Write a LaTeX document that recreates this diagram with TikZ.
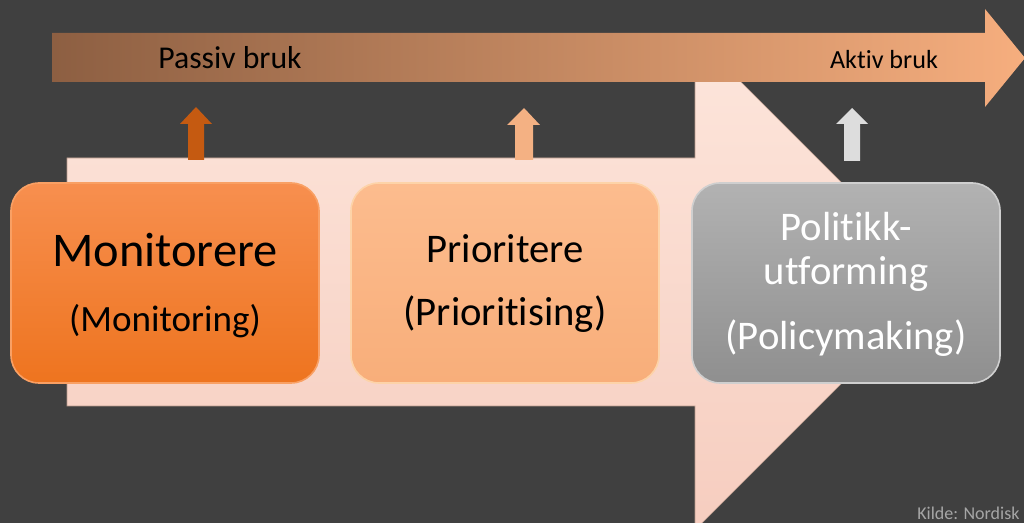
\documentclass[tikz,border=0pt]{standalone}
\usepackage{fontspec}
\setmainfont{Carlito}[Ligatures={NoCommon,NoRare,NoContextual}]
\usetikzlibrary{positioning,shadings}

\definecolor{bgdark}{HTML}{404040}
\definecolor{barleft}{HTML}{8D5F42}
\definecolor{barmid}{HTML}{CB8F66}
\definecolor{barright}{HTML}{F6AE7E}
\definecolor{paletop}{HTML}{FDE6DC}
\definecolor{palebot}{HTML}{F6CDBF}
\definecolor{paleline}{HTML}{B8998B}
\definecolor{montop}{HTML}{F78F4F}
\definecolor{monbot}{HTML}{EE741F}
\definecolor{monrim}{HTML}{F9A064}
\definecolor{pritop}{HTML}{FCBC8E}
\definecolor{pribot}{HTML}{F8AE7A}
\definecolor{pririm}{HTML}{FDD3A8}
\definecolor{poltop}{HTML}{B2B2B2}
\definecolor{polbot}{HTML}{8F8F8F}
\definecolor{polrim}{HTML}{CFCFCF}
\definecolor{arrA}{HTML}{C55A11}
\definecolor{arrB}{HTML}{F4B183}
\definecolor{arrC}{HTML}{DDDDDD}
\definecolor{kilde}{HTML}{A6A6A6}

\begin{document}
\begin{tikzpicture}[x=0.75pt,y=-0.75pt,
  box/.style={rounded corners=21pt,minimum width=231pt,minimum height=150pt,line width=1.2pt,inner sep=0pt},
  txt/.style={anchor=base,inner sep=0pt},
  big/.style={font=\fontsize{30.5}{36}\selectfont}]

\useasboundingbox (0,0) rectangle (1024,523);
\fill[bgdark] (0,0) rectangle (1024,523);
\clip (0,0) rectangle (1024,523);

% wide pale arrow behind the steps
\shade[top color=paletop,bottom color=palebot,draw=paleline,line width=0.5pt]
  (67,158) -- (695,158) -- (695,36) -- (942,283) -- (695,530) -- (695,406) -- (67,406) -- cycle;

% passive -> active scale
\shade[left color=barleft,middle color=barmid,right color=barright]
  (52,33) -- (985,33) -- (985,9) -- (1025,58) -- (985,107) -- (985,82) -- (52,82) -- cycle;
\node[txt,font=\fontsize{23.8}{28}\selectfont] (passiv) at (230,69) {Passiv bruk};
\node[txt,font=\fontsize{19.6}{24}\selectfont] (aktiv) at (884,69) {Aktiv bruk};

% small up arrows
\fill[arrA] (188,160) -- (188,124) -- (180,124) -- (196,107) -- (212,124) -- (204,124) -- (204,160) -- cycle;
\fill[arrB] (515,160) -- (515,125) -- (507,125) -- (524,108) -- (540,125) -- (533,125) -- (533,160) -- cycle;
\fill[arrC] (844,161) -- (844,124) -- (836,124) -- (852,108) -- (868,124) -- (860,124) -- (860,161) -- cycle;

% the three steps
\node[box,top color=montop,bottom color=monbot,draw=monrim] (mon) at (165,283) {};
\node[box,top color=pritop,bottom color=pribot,draw=pririm] (pri) at (505,283) {};
\node[box,top color=poltop,bottom color=polbot,draw=polrim] (pol) at (846,283) {};

\node[txt,font=\fontsize{36.3}{42}\selectfont] (monA) at (165,267) {Monitorere};
\node[txt,font=\fontsize{27.8}{33}\selectfont] (monB) at (165,332) {(Monitoring)};
\node[txt,big] (priA) at (505,263) {Prioritere};
\node[txt,big] (priB) at (505,326) {(Prioritising)};
\node[txt,big,white] (polA) at (846,241) {Politikk-};
\node[txt,big,white] (polB) at (846,285) {utforming};
\node[txt,big,white] (polC) at (846,350) {(Policymaking)};

\node[anchor=base west,inner sep=0pt,kilde,font=\fontsize{13.5}{16}\selectfont] (src) at (917,519) {Kilde: Nordisk};
\end{tikzpicture}
\end{document}
